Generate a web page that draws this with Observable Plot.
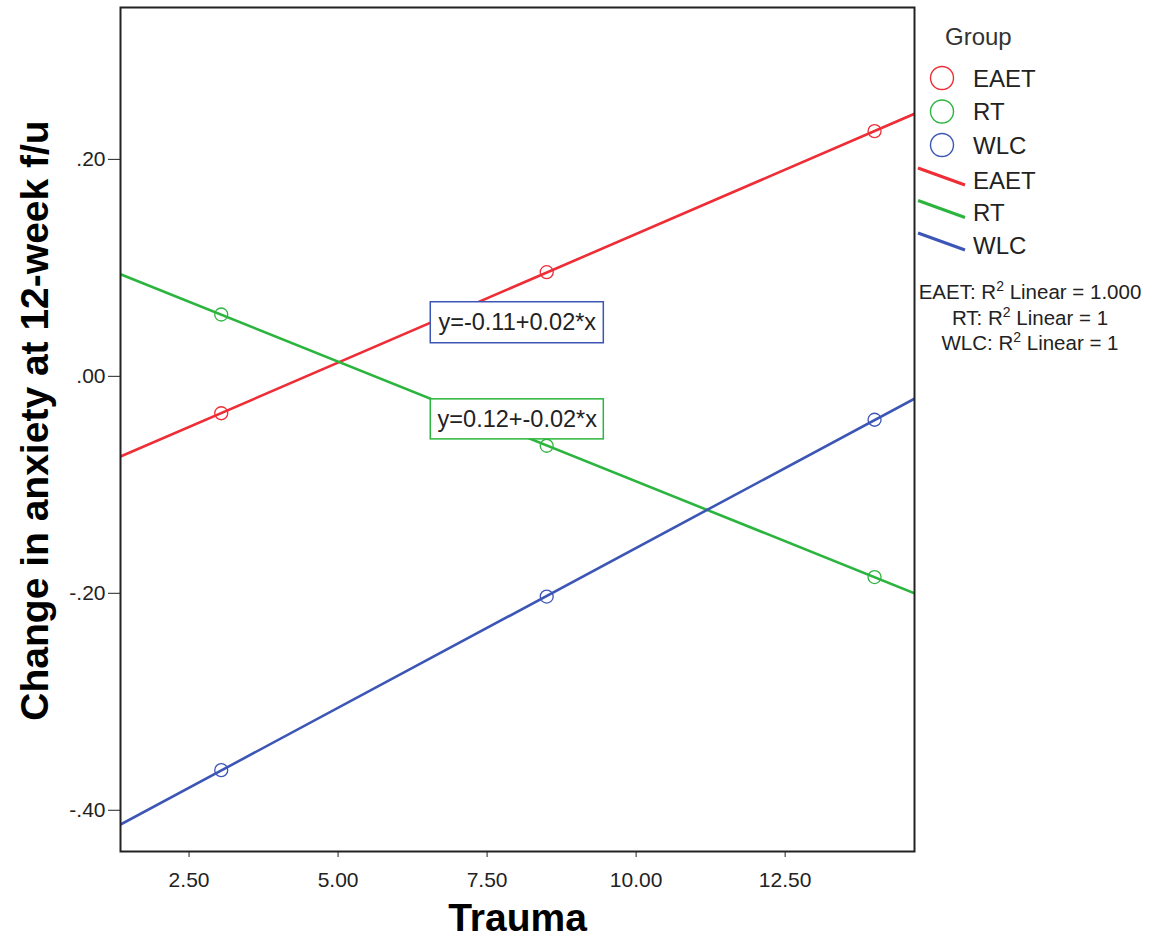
<!DOCTYPE html>
<html><head><meta charset="utf-8">
<script src="https://cdn.jsdelivr.net/npm/d3@7"></script>
<script src="https://cdn.jsdelivr.net/npm/@observablehq/plot@0.6"></script>
<style>
body{margin:0;background:#fff;}
#wrap{position:relative;width:1154px;height:950px;font-family:"Liberation Sans",Arial,sans-serif;}
#legend{position:absolute;left:0;top:0;pointer-events:none;}
</style></head><body><div id="wrap"></div>
<script>
const groups = ["EAET", "RT", "WLC"];
const colors = ["#ee2d36", "#2bb53e", "#3c56b6"];
const trauma = [3.04, 8.50, 14.0];
const eaet = [-0.034, 0.096, 0.226];
const rt = [0.057, -0.064, -0.185];
const wlc = [-0.363, -0.203, -0.040];
const xTicks = [2.5, 5, 7.5, 10, 12.5];
const yTicks = [-0.4, -0.2, 0, 0.2];
const xDomain = [1.35, 14.67];
const yDomain = [-0.438, 0.34];
const eqLabels = ["y=-0.11+0.02*x", "y=0.12+-0.02*x"];
const eqColors = ["#3c56b6", "#2bb53e"];
const eqX1 = [6.555, 6.555];
const eqX2 = [9.458, 9.458];
const eqY1 = [0.0305, -0.0581];
const eqY2 = [0.0683, -0.0212];
const r2Groups = ["EAET", "RT", "WLC"];
const r2Values = ["1.000", "1", "1"];

const FONT = '"Liberation Sans", Arial, sans-serif';
const seriesValues = [eaet, rt, wlc];

const points = [];
groups.forEach((g, i) => trauma.forEach((x, j) => points.push({group: g, x, y: seriesValues[i][j]})));

function fit(xs, ys) {
  const mx = d3.mean(xs), my = d3.mean(ys);
  const b = d3.sum(xs, (x, k) => (x - mx) * (ys[k] - my)) / d3.sum(xs, x => (x - mx) ** 2);
  return [my - b * mx, b];
}
const lineData = [];
groups.forEach((g, i) => {
  const [a, b] = fit(trauma, seriesValues[i]);
  xDomain.forEach(x => lineData.push({group: g, x, y: a + b * x}));
});

const eqData = eqLabels.map((t, i) => ({text: t, color: eqColors[i], x1: eqX1[i], x2: eqX2[i], y1: eqY1[i], y2: eqY2[i]}));

const yFmt = d => (d < 0 ? "-" : "") + Math.abs(d).toFixed(2).slice(1);

const chart = Plot.plot({
  width: 1154, height: 950,
  marginLeft: 120, marginRight: 240, marginTop: 7, marginBottom: 99,
  x: {domain: xDomain},
  y: {domain: yDomain},
  color: {domain: groups, range: colors},
  style: {fontFamily: FONT, background: "white", color: "#222"},
  marks: [
    Plot.line(lineData, {x: "x", y: "y", z: "group", stroke: "group", strokeWidth: 2.6, clip: true}),
    Plot.dot(points, {x: "x", y: "y", stroke: "group", r: 6.5, strokeWidth: 1.3}),
    Plot.rect(eqData, {x1: "x1", x2: "x2", y1: "y1", y2: "y2", fill: "white", stroke: "color", strokeWidth: 1.5}),
    Plot.text(eqData, {x: d => (d.x1 + d.x2) / 2, y: d => (d.y1 + d.y2) / 2, text: "text", fontSize: 23.5, fill: "#222"}),
    Plot.axisX({ticks: xTicks, tickFormat: d => d.toFixed(2), tickSize: 6, tickPadding: 15, fontSize: 21, label: null, stroke: "#222"}),
    Plot.axisY({ticks: yTicks, tickFormat: yFmt, tickSize: 12, tickPadding: 3, fontSize: 21, label: null, stroke: "#222"}),
    Plot.frame({stroke: "#222", strokeWidth: 2}),
    Plot.text(["Trauma"], {frameAnchor: "bottom", dy: 79, fontSize: 39, fontWeight: "bold", fill: "#000"}),
    Plot.text(["Change in anxiety at 12-week f/u"], {frameAnchor: "left", textAnchor: "middle", rotate: -90, dx: -85, dy: -9, fontSize: 39, fontWeight: "bold", fill: "#000"})
  ]
});

const wrap = document.getElementById("wrap");
wrap.appendChild(chart);

// Legend overlay
const svg = d3.select(wrap).append("svg").attr("id", "legend")
  .attr("width", 1154).attr("height", 950)
  .style("font-family", FONT);
svg.append("text").attr("x", 945).attr("y", 45).attr("font-size", 24).attr("fill", "#333").text("Group");
const rowY0 = 78, rowStep = 33.5;
groups.forEach((g, i) => {
  const cy = rowY0 + i * rowStep;
  svg.append("circle").attr("cx", 942).attr("cy", cy).attr("r", 11.5)
    .attr("fill", "none").attr("stroke", colors[i]).attr("stroke-width", 1.4);
  svg.append("text").attr("x", 973).attr("y", cy + 8.5).attr("font-size", 24).attr("fill", "#222").text(g);
});
const lineY0 = 180;
groups.forEach((g, i) => {
  const cy = lineY0 + i * 32.5;
  svg.append("line").attr("x1", 918).attr("y1", cy - 12).attr("x2", 965).attr("y2", cy + 5)
    .attr("stroke", colors[i]).attr("stroke-width", 3);
  svg.append("text").attr("x", 973).attr("y", cy + 8.5).attr("font-size", 24).attr("fill", "#222").text(g);
});
r2Groups.forEach((g, i) => {
  const t = svg.append("text").attr("x", 1030).attr("y", 299 + i * 25.5)
    .attr("font-size", 20.5).attr("fill", "#222").attr("text-anchor", "middle");
  t.append("tspan").text(g + ": R");
  t.append("tspan").attr("font-size", 14).attr("dy", -8).text("2");
  t.append("tspan").attr("dy", 8).text(" Linear = " + r2Values[i]);
});
</script></body></html>
